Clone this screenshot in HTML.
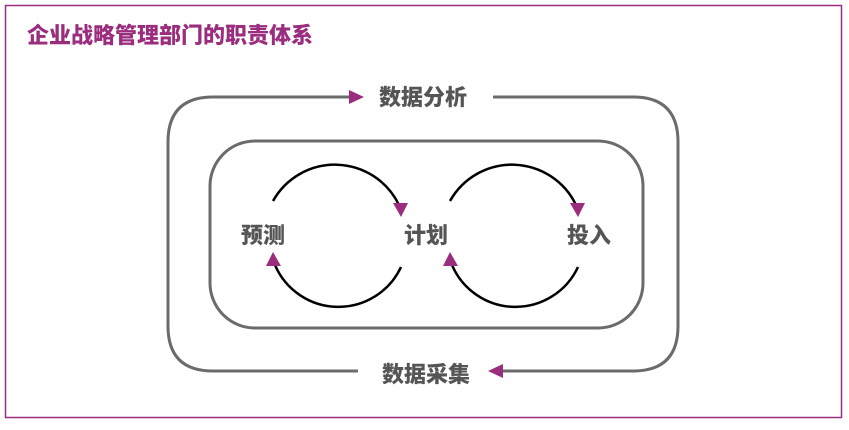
<!DOCTYPE html>
<html><head><meta charset="utf-8"><style>
body{margin:0;width:849px;height:425px;background:#fff;overflow:hidden}
svg text{font-family:"Liberation Sans","Noto Sans CJK SC",sans-serif;font-weight:900}
</style></head><body>
<svg width="849" height="425" viewBox="0 0 849 425">
<rect x="5.5" y="5.5" width="836" height="412" fill="none" stroke="#9b2d7f" stroke-width="1.5"/>
<text x="27" y="43" font-size="22" fill="#9b2d7f">企业战略管理部门的职责体系</text>
<g fill="none" stroke="#6b6b6b" stroke-width="3">
<path d="M350 97 H213 Q168 97 168 142 V326 Q168 371 213 371 H358"/>
<path d="M493 97 H633 Q678 97 678 142 V326 Q678 371 633 371 H500"/>
<rect x="210" y="141" width="433" height="187" rx="45"/>
</g>
<g fill="none" stroke="#000" stroke-width="2.5">
<path d="M273 201 A71 71 0 0 1 399 205"/>
<path d="M401 267 A69 69 0 0 1 275 265"/>
<path d="M450 201 A71 71 0 0 1 576 205"/>
<path d="M578 267 A69 69 0 0 1 452 265"/>
</g>
<g fill="#9b2d7f">
<polygon points="349,90 364,97 349,104"/>
<polygon points="503,364 488,371 503,378"/>
<polygon points="393,203 408,203 401,217"/>
<polygon points="570,203 585,203 578,217"/>
<polygon points="266,266 281,266 273,252"/>
<polygon points="443,266 458,266 450,252"/>
</g>
<g font-size="22" fill="#555" text-anchor="middle">
<text x="423" y="105">数据分析</text>
<text x="426" y="382">数据采集</text>
<text x="263" y="243">预测</text>
<text x="426" y="243">计划</text>
<text x="589" y="243">投入</text>
</g>
</svg>
</body></html>
